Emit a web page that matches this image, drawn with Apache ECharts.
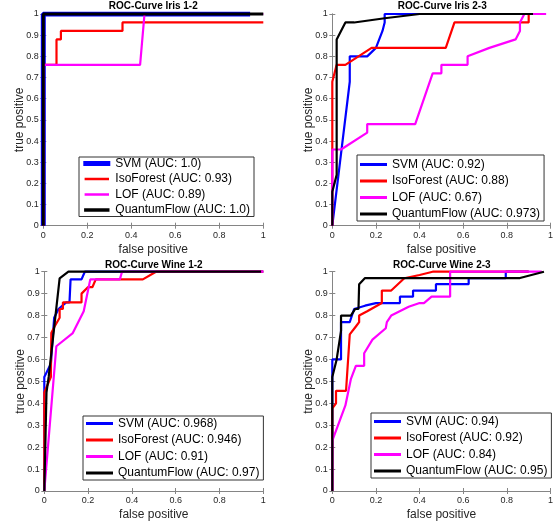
<!DOCTYPE html>
<html><head><meta charset="utf-8">
<script src="https://cdn.jsdelivr.net/npm/echarts@6/dist/echarts.min.js"></script>
<style>html,body{margin:0;padding:0;background:#fff}#c{width:556px;height:525px}</style>
</head><body><div id="c"></div>
<script>
// ---- data ----
const panelTitles = ['ROC-Curve Iris 1-2', 'ROC-Curve Iris 2-3', 'ROC-Curve Wine 1-2', 'ROC-Curve Wine 2-3'];
const methods = ['SVM', 'IsoForest', 'LOF', 'QuantumFlow'];
const aucIris12 = ['1.0', '0.93', '0.89', '1.0'];
const aucIris23 = ['0.92', '0.88', '0.67', '0.973'];
const aucWine12 = ['0.968', '0.946', '0.91', '0.97'];
const aucWine23 = ['0.94', '0.92', '0.84', '0.95'];
const xTicks = [0, 0.2, 0.4, 0.6, 0.8, 1];
const yTicks = [0, 0.1, 0.2, 0.3, 0.4, 0.5, 0.6, 0.7, 0.8, 0.9, 1];

// [false positive, true positive]
const iris12Svm = [[0,0],[0,1],[0.94,1]];
const iris12Iso = [[0,0],[0,0.76],[0.06,0.76],[0.06,0.88],[0.08,0.88],[0.08,0.92],[0.36,0.92],[0.36,0.96],[1,0.96]];
const iris12Lof = [[0,0],[0,0.76],[0.44,0.76],[0.46,1],[1,1]];
const iris12Qf  = [[0,0],[0,1],[1,1]];

const iris23Svm = [[0,0],[0.08,0.68],[0.08,0.8],[0.16,0.8],[0.2,0.84],[0.23,0.92],[0.24,0.96],[0.24,1],[0.9,1]];
const iris23Iso = [[0,0],[0,0.68],[0.02,0.76],[0.06,0.76],[0.18,0.84],[0.52,0.84],[0.56,0.96],[0.9,0.96],[0.9,1]];
const iris23Lof = [[0,0],[0,0.36],[0.04,0.36],[0.16,0.44],[0.16,0.48],[0.38,0.48],[0.46,0.72],[0.5,0.72],[0.5,0.76],[0.62,0.76],[0.62,0.8],[0.72,0.84],[0.84,0.88],[0.86,0.92],[0.86,0.96],[0.88,1],[0.98,1]];
const iris23Qf  = [[0,0],[0,0.16],[0.02,0.24],[0.02,0.88],[0.06,0.96],[0.1,0.96],[0.24,0.98],[0.4,1],[0.92,1]];

const wine12Svm = [[0,0],[0,0.52],[0.03,0.58],[0.045,0.79],[0.065,0.83],[0.1,0.86],[0.115,0.86],[0.12,0.965],[0.17,0.965],[0.185,1],[1,1]];
const wine12Iso = [[0,0],[0,0.45],[0.03,0.52],[0.032,0.72],[0.047,0.75],[0.07,0.79],[0.07,0.83],[0.085,0.83],[0.085,0.86],[0.17,0.86],[0.17,0.9],[0.2,0.93],[0.22,0.93],[0.235,0.965],[0.45,0.965],[0.51,1],[1,1]];
const wine12Lof = [[0,0],[0.025,0.3],[0.055,0.66],[0.13,0.72],[0.18,0.82],[0.21,0.965],[0.345,0.965],[0.355,1],[1,1]];
const wine12Qf  = [[0,0],[0.01,0.45],[0.02,0.52],[0.07,0.97],[0.11,1],[0.99,1]];

const wine23Svm = [[0,0],[0,0.6],[0.04,0.6],[0.04,0.77],[0.08,0.77],[0.1,0.83],[0.15,0.845],[0.2,0.857],[0.31,0.857],[0.31,0.886],[0.37,0.886],[0.37,0.914],[0.475,0.914],[0.475,0.943],[0.625,0.943],[0.625,0.971],[0.795,0.971],[0.795,1],[0.9,1]];
const wine23Iso = [[0,0],[0,0.377],[0.017,0.4],[0.017,0.457],[0.063,0.457],[0.08,0.714],[0.108,0.75],[0.123,0.77],[0.123,0.8],[0.16,0.82],[0.227,0.857],[0.227,0.914],[0.27,0.914],[0.33,0.97],[0.4,0.985],[0.46,1],[0.9,1]];
const wine23Lof = [[0,0],[0,0.23],[0.06,0.39],[0.085,0.51],[0.108,0.571],[0.146,0.571],[0.146,0.628],[0.184,0.69],[0.245,0.742],[0.25,0.77],[0.27,0.8],[0.35,0.84],[0.4,0.857],[0.42,0.857],[0.455,0.886],[0.54,0.886],[0.54,1],[0.96,1]];
const wine23Qf  = [[0,0],[0,0.52],[0.02,0.6],[0.04,0.73],[0.04,0.8],[0.085,0.8],[0.105,0.83],[0.12,0.83],[0.123,0.943],[0.15,0.971],[0.86,0.971],[0.97,1]];

// ---- layout / style ----
const panelData = [
  [iris12Svm, iris12Iso, iris12Lof, iris12Qf],
  [iris23Svm, iris23Iso, iris23Lof, iris23Qf],
  [wine12Svm, wine12Iso, wine12Lof, wine12Qf],
  [wine23Svm, wine23Iso, wine23Lof, wine23Qf]
];
const panelAuc = [aucIris12, aucIris23, aucWine12, aucWine23];
const colors = ['#0000FF', '#FF0000', '#FF00FF', '#000000'];
const grids = [
  {left: 43.3, top: 14, width: 220, height: 211.7},
  {left: 332.3, top: 14, width: 220, height: 211.7},
  {left: 44.3, top: 271.7, width: 219, height: 219.3},
  {left: 332.3, top: 271.7, width: 219, height: 219.3}
];
const titleTops = [1, 1, 260, 260];
const legendPos = [
  {left: 79, top: 157, padding: [0, 4, 0, 3], itemGap: 2.5, itemHeight: 5},
  {left: 357, top: 155, padding: [3, 4, 0.5, 3], itemGap: 3.5, itemHeight: 3},
  {left: 83, top: 416, padding: [1, 4, 0.5, 3], itemGap: 3.5, itemHeight: 3},
  {left: 371, top: 413, padding: [2, 4, 0.5, 3], itemGap: 3.5, itemHeight: 3}
];
// panel 1 legend keys: thinner lines are drawn by masking the 5px key with a white border
const panel1KeyBorder = [0, 2.6, 2.6, 1.6];
const FONT = '"Liberation Sans", Arial, Helvetica, sans-serif';
const axisColor = '#858585';
const textColor = '#262626';

const option = {
  animation: false,
  backgroundColor: '#fff',
  grid: grids.map(g => Object.assign({containLabel: false, show: false}, g)),
  title: [], legend: [], xAxis: [], yAxis: [], series: []
};

panelData.forEach((curves, p) => {
  const g = grids[p];
  option.title.push({
    text: panelTitles[p], left: g.left + g.width / 2, top: titleTops[p], textAlign: 'center', padding: 0,
    textStyle: {fontSize: 10, fontWeight: 'bold', color: '#000', fontFamily: FONT}
  });
  const base = {
    gridIndex: p, type: 'value', min: 0, max: 1, splitLine: {show: false},
    axisLine: {show: true, lineStyle: {color: axisColor, width: 1}},
    axisTick: {show: true, inside: true, length: 3, lineStyle: {color: axisColor}}
  };
  option.xAxis.push(Object.assign({}, base, {
    position: 'bottom', interval: xTicks[1] - xTicks[0],
    axisLabel: {fontSize: 9, color: textColor, margin: 5, fontFamily: FONT},
    name: 'false positive', nameLocation: 'middle', nameGap: 18, nameMoveOverlap: false,
    nameTextStyle: {fontSize: 12, color: textColor, fontFamily: FONT}
  }));
  option.xAxis.push(Object.assign({}, base, {position: 'top', interval: xTicks[1] - xTicks[0], axisLabel: {show: false}}));
  option.yAxis.push(Object.assign({}, base, {
    position: 'left', interval: yTicks[1] - yTicks[0],
    axisLabel: {fontSize: 9, color: textColor, margin: 4.5, fontFamily: FONT},
    name: 'true positive', nameLocation: 'middle', nameGap: 17.5, nameMoveOverlap: false,
    nameTextStyle: {fontSize: 12, color: textColor, fontFamily: FONT}
  }));
  option.yAxis.push(Object.assign({}, base, {position: 'right', interval: yTicks[1] - yTicks[0], axisLabel: {show: false}}));

  const names = methods.map((m, i) => m + ' (AUC: ' + panelAuc[p][i] + ')');
  curves.forEach((pts, i) => {
    let w = 2.2;
    if (p === 0 && i === 0) w = 5;
    if (p === 0 && i === 3) w = 3;
    option.series.push({
      type: 'line', name: names[i], xAxisIndex: 2 * p, yAxisIndex: 2 * p,
      data: pts, symbol: 'none', clip: (p === 0 && i === 0), silent: true,
      itemStyle: {color: colors[i]}, lineStyle: {color: colors[i], width: w}
    });
  });
  const legendData = names.map((n, i) => {
    const item = {name: n};
    if (p === 0 && panel1KeyBorder[i] > 0) item.itemStyle = {borderColor: '#fff', borderWidth: panel1KeyBorder[i]};
    return item;
  });
  option.legend.push(Object.assign({
    orient: 'vertical', data: legendData, icon: 'rect', itemWidth: 27,
    borderColor: '#333', borderWidth: 1, backgroundColor: '#fff', selectedMode: false,
    textStyle: {fontSize: 12, color: '#000', fontFamily: FONT, lineHeight: 13}
  }, legendPos[p]));
});

const chart = echarts.init(document.getElementById('c'), null, {renderer: 'canvas'});
chart.setOption(option);
</script>
</body></html>
